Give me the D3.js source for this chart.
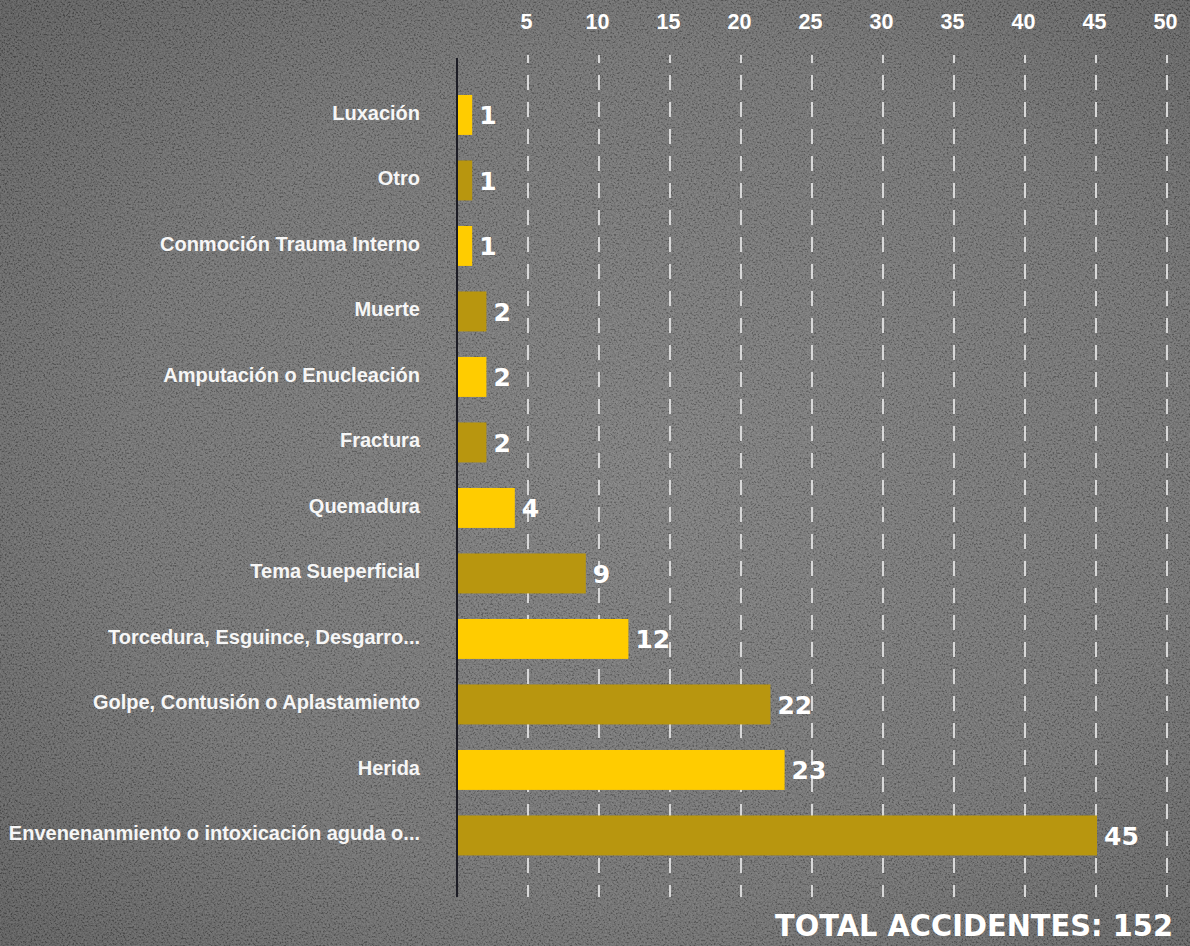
<!DOCTYPE html>
<html>
<head>
<meta charset="utf-8">
<script src="https://cdn.jsdelivr.net/npm/d3@7"></script>
<style>
html,body{margin:0;padding:0;background:#6b6b6b;}
svg{display:block;}
</style>
</head>
<body>
<svg id="chart" width="1190" height="946"></svg>
<script>
const categories = ["Luxación","Otro","Conmoción Trauma Interno","Muerte","Amputación o Enucleación","Fractura","Quemadura","Tema Sueperficial","Torcedura, Esguince, Desgarro...","Golpe, Contusión o Aplastamiento","Herida","Envenenanmiento o intoxicación aguda o..."];
const values = [1,1,1,2,2,2,4,9,12,22,23,45];
const tickValues = [5,10,15,20,25,30,35,40,45,50];
const totalLabel = "TOTAL ACCIDENTES: 152";
const barColors = ["#FFCC00","#B8960F"];

const W = 1190, H = 946;
const svg = d3.select("#chart");
const defs = svg.append("defs");

const rg = defs.append("radialGradient").attr("id","bg").attr("cx","55%").attr("cy","50%").attr("r","75%");
rg.append("stop").attr("offset","0%").attr("stop-color","#777777");
rg.append("stop").attr("offset","60%").attr("stop-color","#6a6a6a");
rg.append("stop").attr("offset","100%").attr("stop-color","#525252");

const f = defs.append("filter").attr("id","noise").attr("x",0).attr("y",0).attr("width","100%").attr("height","100%");
f.append("feTurbulence").attr("type","fractalNoise").attr("baseFrequency","0.55").attr("numOctaves",3).attr("seed",7).attr("result","t");
f.append("feColorMatrix").attr("type","matrix")
 .attr("values","2.4 0 0 0 -0.7  2.4 0 0 0 -0.7  2.4 0 0 0 -0.7  0 0 0 0 1");

svg.append("rect").attr("width",W).attr("height",H).attr("fill","url(#bg)");
svg.append("rect").attr("width",W).attr("height",H).attr("filter","url(#noise)").attr("opacity",0.16);

const x = d3.scaleLinear().domain([0,50]).range([457,1167]);
const y = d3.scaleBand().domain(categories).range([82.2, 82.2+786]).paddingInner(0.39).paddingOuter(0.195);

// gridlines
svg.append("g").selectAll("line").data(tickValues).join("line")
  .attr("x1",d=>x(d)).attr("x2",d=>x(d))
  .attr("y1",55).attr("y2",897)
  .attr("stroke","#d8d8d8").attr("stroke-width",2)
  .attr("stroke-dasharray","15,12").attr("stroke-dashoffset",7);

// top axis tick labels
const axis = d3.axisTop(x).tickValues(tickValues).tickSize(0).tickPadding(0);
const gAxis = svg.append("g").attr("transform","translate(-2,29)").call(axis);
gAxis.select(".domain").remove();
gAxis.selectAll("text")
  .attr("fill","#ffffff").attr("font-family","Liberation Sans, Arial, sans-serif")
  .attr("font-weight","bold").attr("font-size",21.5).attr("dy",0);

// bars
svg.append("g").selectAll("rect").data(values).join("rect")
  .attr("x",x(0)+1)
  .attr("y",(d,i)=>y(categories[i]))
  .attr("width",d=>x(d)-x(0))
  .attr("height",y.bandwidth())
  .attr("fill",(d,i)=>barColors[i%2]);

// axis line
svg.append("line").attr("x1",x(0)).attr("x2",x(0)).attr("y1",58).attr("y2",897)
  .attr("stroke","#1c1c24").attr("stroke-width",2);

// category labels
svg.append("g").selectAll("text").data(categories).join("text")
  .attr("x",420).attr("y",d=>y(d)+y.bandwidth()/2-2)
  .attr("text-anchor","end").attr("dominant-baseline","central")
  .attr("fill","#f6f6f6").attr("font-family","Liberation Sans, Arial, sans-serif")
  .attr("font-weight","bold").attr("font-size",20)
  .text(d=>d);

// value labels
svg.append("g").selectAll("text").data(values).join("text")
  .attr("x",d=>x(d)+8).attr("y",(d,i)=>y(categories[i])+y.bandwidth()/2+1)
  .attr("dominant-baseline","central")
  .attr("fill","#ffffff").attr("font-family","DejaVu Sans, sans-serif")
  .attr("font-weight","bold").attr("font-size",25)
  .text(d=>d);

// total
svg.append("text").attr("x",1173).attr("y",936).attr("text-anchor","end")
  .attr("fill","#ffffff").attr("font-family","DejaVu Sans, sans-serif")
  .attr("font-weight","bold").attr("font-size",29.5)
  .attr("textLength",398).attr("lengthAdjust","spacingAndGlyphs")
  .text(totalLabel);
</script>
</body>
</html>
